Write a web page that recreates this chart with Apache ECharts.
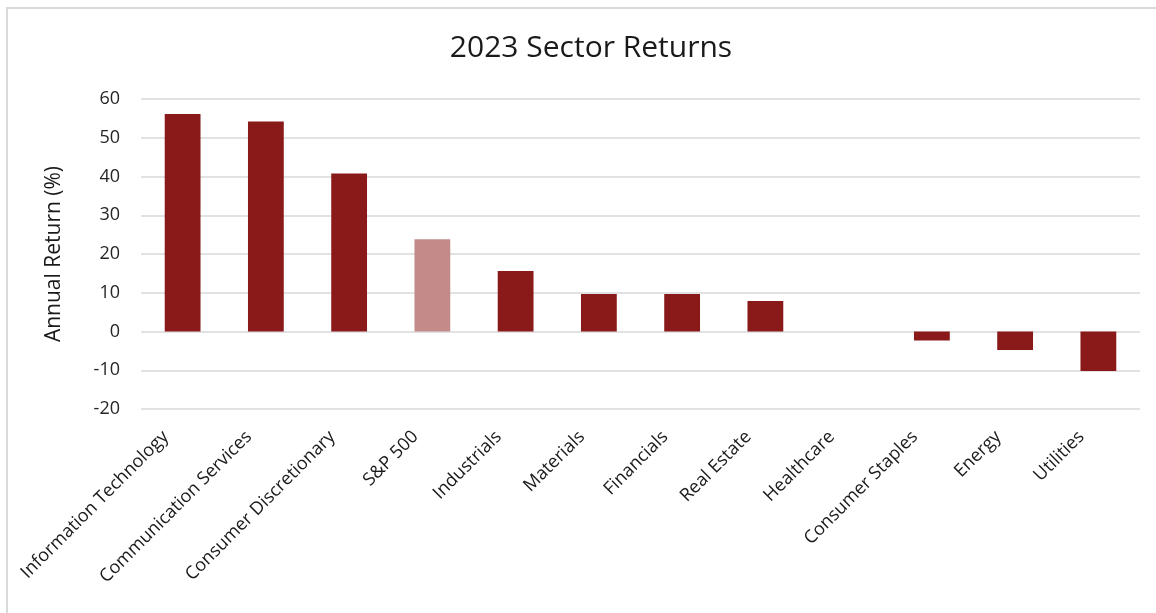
<!DOCTYPE html>
<html>
<head>
<meta charset="utf-8">
<script src="https://cdn.jsdelivr.net/npm/echarts@6/dist/echarts.min.js"></script>
<style>
  html, body { margin: 0; padding: 0; background: #ffffff; }
  #chart { width: 1156px; height: 613px; }
</style>
</head>
<body>
<div id="chart"></div>
<script>
// Sector returns for calendar year 2023 (%)
const sectors = [
  'Information Technology', 'Communication Services', 'Consumer Discretionary',
  'S&P 500', 'Industrials', 'Materials', 'Financials', 'Real Estate',
  'Healthcare', 'Consumer Staples', 'Energy', 'Utilities'
];
const returns = [56.1, 54.2, 40.8, 23.8, 15.6, 9.7, 9.7, 7.9, 0.0, -2.3, -4.8, -10.2];
const benchmarkName = 'S&P 500';

const yTicks = { min: -20, max: 60, interval: 10 };

const sectorColor = '#8a1a1a';
const benchmarkColor = '#c48a8a';
const fontFamily = '"Open Sans", "Noto Sans", sans-serif';

const chart = echarts.init(document.getElementById('chart'), null, { renderer: 'canvas' });

chart.setOption({
  backgroundColor: '#ffffff',
  animation: false,
  title: {
    text: '2023 Sector Returns',
    left: 586,
    textAlign: 'center',
    top: 28,
    textStyle: { fontFamily, fontSize: 30, fontWeight: 'normal', color: '#1a1a1a' }
  },
  graphic: [{
    type: 'rect',
    shape: { x: 7, y: 8, width: 1170, height: 640 },
    style: { fill: 'none', stroke: '#d9d9d9', lineWidth: 2 },
    silent: true
  }],
  grid: { left: 141, right: 16, top: 99, bottom: 204, containLabel: false },
  xAxis: {
    type: 'category',
    data: sectors,
    axisLine: { show: false },
    axisTick: { show: false },
    axisLabel: {
      interval: 0,
      rotate: 45,
      margin: 8,
      padding: [0, 24, 0, 0],
      fontFamily,
      fontSize: 18,
      color: '#1a1a1a'
    }
  },
  yAxis: {
    type: 'value',
    min: yTicks.min,
    max: yTicks.max,
    interval: yTicks.interval,
    name: 'Annual Return (%)',
    nameLocation: 'middle',
    nameGap: 76,
    nameTextStyle: { fontFamily, fontSize: 21, color: '#1a1a1a' },
    axisLine: { show: false },
    axisTick: { show: false },
    axisLabel: { margin: 21, fontFamily, fontSize: 18, color: '#262626' },
    splitLine: { lineStyle: { color: '#d9d9d9', width: 1.5 } }
  },
  series: [{
    type: 'bar',
    barWidth: '43%',
    data: returns.map((v, i) => ({
      value: v,
      itemStyle: { color: sectors[i] === benchmarkName ? benchmarkColor : sectorColor }
    }))
  }]
});
</script>
</body>
</html>
